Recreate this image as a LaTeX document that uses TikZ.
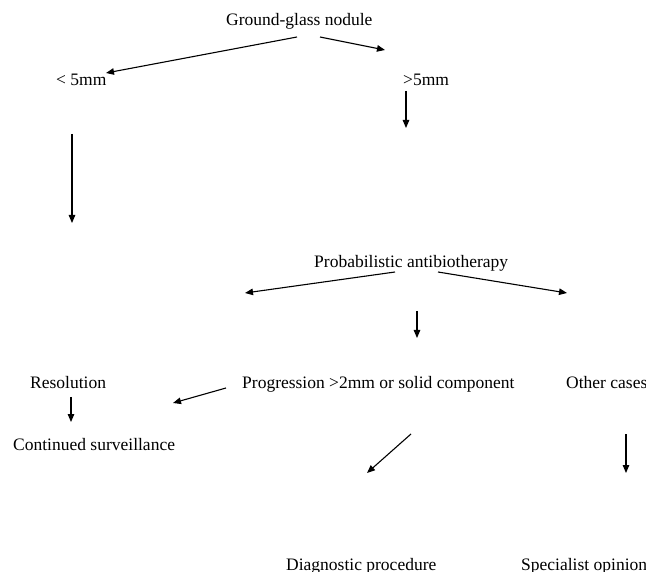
\documentclass[tikz,border=0pt]{standalone}
\usepackage{fontspec}
\setmainfont{Liberation Serif}
\usetikzlibrary{arrows.meta}
\tikzset{
  lbl/.style={inner sep=0pt, anchor=base west, font=\fontsize{17.5}{20}\selectfont},
  arr/.style={line width=1.1pt, -{Triangle[length=8pt,width=6.5pt]}}
}

\begin{document}
\begin{tikzpicture}[x=1pt, y=-1pt]
  \useasboundingbox (0,0) rectangle (646,572);

  \node[lbl] (gg) at (226,26) {Ground-glass nodule};
  \node[lbl] (small) at (56,86) {< 5mm};
  \node[lbl] (large) at (403,86) {>5mm};
  \node[lbl] (prob) at (314,268) {Probabilistic antibiotherapy};
  \node[lbl] (res) at (30,388.5) {Resolution};
  \node[lbl] (prog) at (242,388.5) {Progression >2mm or solid component};
  \node[lbl] (other) at (566,388.5) {Other cases};
  \node[lbl] (surv) at (13,450) {Continued surveillance};
  \node[lbl] (diag) at (286,570.5) {Diagnostic procedure};
  \node[lbl] (spec) at (521,570.5) {Specialist opinion};

  \coordinate (gg-l) at (297,37);
  \coordinate (gg-r) at (320,37);
  \coordinate (small-in) at (106,73);
  \coordinate (large-in) at (385,50);
  \coordinate (large-out) at (406,91);
  \coordinate (large-end) at (406,128);
  \coordinate (small-out) at (72,134);
  \coordinate (small-end) at (72,223);
  \coordinate (prob-l) at (395,272);
  \coordinate (prob-r) at (438,272);
  \coordinate (prob-lend) at (245,293);
  \coordinate (prob-rend) at (567,293);
  \coordinate (prob-d) at (417,311);
  \coordinate (prob-dend) at (417,338);
  \coordinate (res-out) at (71,397);
  \coordinate (surv-in) at (71,422);
  \coordinate (prog-l) at (226,388);
  \coordinate (prog-lend) at (173,403);
  \coordinate (prog-d) at (411,434);
  \coordinate (diag-in) at (367,473);
  \coordinate (other-d) at (626,434);
  \coordinate (spec-in) at (626,473);

  \draw[arr] (gg-l) -- (small-in);
  \draw[arr] (gg-r) -- (large-in);
  \draw[arr] (large-out) -- (large-end);
  \draw[arr] (small-out) -- (small-end);
  \draw[arr] (prob-l) -- (prob-lend);
  \draw[arr] (prob-r) -- (prob-rend);
  \draw[arr] (prob-d) -- (prob-dend);
  \draw[arr] (res-out) -- (surv-in);
  \draw[arr] (prog-l) -- (prog-lend);
  \draw[arr] (prog-d) -- (diag-in);
  \draw[arr] (other-d) -- (spec-in);
\end{tikzpicture}
\end{document}
